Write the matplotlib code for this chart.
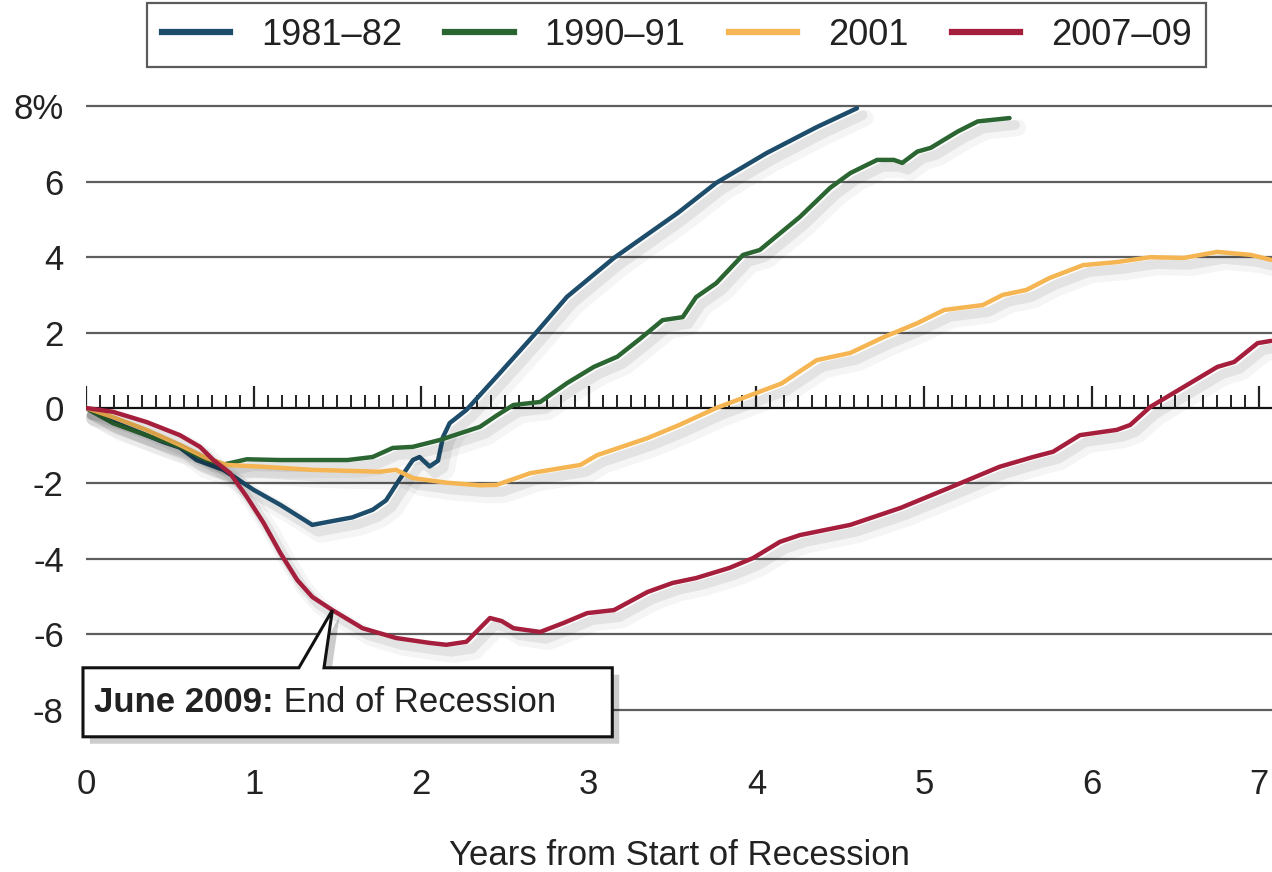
import numpy as np
import matplotlib
matplotlib.use("Agg")
import matplotlib.pyplot as plt
from matplotlib import patheffects as pe
from matplotlib.lines import Line2D
from matplotlib.patches import Polygon

plt.rcParams['font.family'] = ['Liberation Sans', 'DejaVu Sans']

# ---------------- data ----------------
labels = ["1981\u201382", "1990\u201391", "2001", "2007\u201309"]
colors = ["#1d4d6b", "#2b6632", "#f4b552", "#a51f3d"]

x_1981 = [0, 0.16, 0.36, 0.46, 0.56, 0.66, 0.82, 1.0, 1.16, 1.35, 1.47, 1.59, 1.71, 1.79,
          1.87, 1.95, 1.99, 2.05, 2.1, 2.13, 2.17, 2.27, 2.47, 2.67, 2.87, 3.15, 3.53, 3.76,
          4.06, 4.36, 4.6]
y_1981 = [0, -0.36, -0.72, -0.9, -1.05, -1.38, -1.64, -2.17, -2.57, -3.1, -3.0, -2.9, -2.7,
          -2.45, -1.9, -1.38, -1.3, -1.55, -1.4, -0.77, -0.4, -0.05, 0.93, 1.92, 2.95, 3.98,
          5.17, 5.97, 6.76, 7.45, 7.95]

x_1990 = [0, 0.16, 0.36, 0.56, 0.72, 0.82, 0.96, 1.16, 1.56, 1.71, 1.83, 1.95, 2.11, 2.35,
          2.45, 2.55, 2.71, 2.87, 3.03, 3.17, 3.31, 3.44, 3.56, 3.64, 3.76, 3.92, 4.02, 4.26,
          4.44, 4.56, 4.72, 4.82, 4.87, 4.96, 5.04, 5.2, 5.32, 5.51]
y_1990 = [0, -0.4, -0.72, -1.03, -1.38, -1.5, -1.36, -1.38, -1.38, -1.3, -1.06, -1.03, -0.85,
          -0.5, -0.2, 0.08, 0.16, 0.66, 1.09, 1.36, 1.85, 2.33, 2.41, 2.94, 3.31, 4.06, 4.19,
          5.07, 5.84, 6.23, 6.58, 6.58, 6.5, 6.8, 6.9, 7.33, 7.6, 7.69]

x_2001 = [0, 0.16, 0.36, 0.56, 0.72, 0.84, 1.06, 1.35, 1.75, 1.85, 1.95, 2.15, 2.35, 2.45,
          2.65, 2.95, 3.05, 3.35, 3.54, 3.76, 3.94, 4.15, 4.36, 4.56, 4.76, 4.96, 5.12, 5.35,
          5.47, 5.61, 5.75, 5.95, 6.15, 6.35, 6.55, 6.75, 6.95, 7.07]
y_2001 = [0, -0.24, -0.58, -0.98, -1.33, -1.51, -1.56, -1.64, -1.69, -1.64, -1.86, -1.98,
          -2.05, -2.04, -1.73, -1.51, -1.25, -0.8, -0.45, 0, 0.3, 0.65, 1.27, 1.46, 1.88,
          2.25, 2.6, 2.73, 3.0, 3.13, 3.45, 3.79, 3.87, 4.0, 3.98, 4.14, 4.06, 3.93]

x_2007 = [0, 0.16, 0.36, 0.56, 0.68, 0.76, 0.86, 0.96, 1.06, 1.16, 1.26, 1.35, 1.47, 1.65,
          1.85, 2.05, 2.15, 2.27, 2.35, 2.41, 2.48, 2.55, 2.71, 2.85, 2.99, 3.15, 3.35, 3.5,
          3.64, 3.84, 3.98, 4.14, 4.26, 4.56, 4.86, 5.16, 5.45, 5.65, 5.77, 5.93, 6.15, 6.23,
          6.35, 6.55, 6.75, 6.85, 6.99, 7.07]
y_2007 = [0, -0.1, -0.37, -0.72, -1.03, -1.38, -1.73, -2.36, -3.05, -3.85, -4.56, -5.01,
          -5.36, -5.84, -6.1, -6.23, -6.28, -6.2, -5.84, -5.57, -5.65, -5.84, -5.94, -5.7,
          -5.44, -5.36, -4.88, -4.64, -4.51, -4.24, -3.98, -3.55, -3.37, -3.1, -2.65, -2.1,
          -1.56, -1.3, -1.16, -0.72, -0.58, -0.45, 0.03, 0.56, 1.09, 1.22, 1.72, 1.78]

series_x = [x_1981, x_1990, x_2001, x_2007]
series_y = [y_1981, y_1990, y_2001, y_2007]

y_ticks = [8, 6, 4, 2, 0, -2, -4, -6, -8]
y_tick_labels = ["8%", "6", "4", "2", "0", "-2", "-4", "-6", "-8"]
x_ticks = [0, 1, 2, 3, 4, 5, 6, 7]

end_of_recession = 1.47  # June 2009, years from Dec 2007
annot_bold = "June 2009:"
annot_text = " End of Recession"

# ---------------- figure ----------------
fig = plt.figure(figsize=(12.72, 8.72), dpi=100)
ax = fig.add_axes([86 / 1272, 0.1516, 1186 / 1272, 0.7394])
ax.set_xlim(0, 7.076)
ax.set_ylim(-8.8, 8.3)

for s in ax.spines.values():
    s.set_visible(False)

# gridlines
for yv in y_ticks:
    if yv == 0:
        ax.axhline(0, color="#111111", lw=1.6, zorder=1)
    else:
        ax.axhline(yv, color="#5e5e5e", lw=1.6, zorder=1)

# month ticks on zero line
months = np.arange(0, 85) / 12.0
minor = [m for i, m in enumerate(months) if i % 12 != 0]
major = [m for i, m in enumerate(months) if i % 12 == 0]
ax.vlines(minor, 0, 0.34, color="#222222", lw=1.4, zorder=1)
ax.vlines(major, 0, 0.58, color="#222222", lw=1.6, zorder=1)

shadow = [pe.SimpleLineShadow(offset=(6, -7), shadow_color="#000000", alpha=0.04, linewidth=12),
          pe.SimpleLineShadow(offset=(4, -5), shadow_color="#000000", alpha=0.07, linewidth=7),
          pe.Normal()]

handles = []
for xs, ys, c, lab in zip(series_x, series_y, colors, labels):
    ln, = ax.plot(xs, ys, color=c, lw=3.2, solid_joinstyle="round",
                  solid_capstyle="round", label=lab, zorder=3)
    ln.set_path_effects(shadow)
    handles.append(Line2D([0], [0], color=c, lw=4.5))

ax.set_yticks(y_ticks)
ax.set_yticklabels(y_tick_labels)
ax.set_xticks(x_ticks)
ax.set_xticklabels([str(v) for v in x_ticks])
ax.tick_params(axis="y", length=0, pad=16, labelsize=25, labelcolor="#222222")
ax.tick_params(axis="x", length=0, pad=20, labelsize=25, labelcolor="#222222")
ax.set_xlabel("Years from Start of Recession", fontsize=25, color="#222222", labelpad=28)

# callout box
tip_y = float(np.interp(end_of_recession, x_2007, y_2007))
bl, br, bt, bb = -0.018, 3.14, -6.89, -8.72
poly = Polygon([(bl, bb), (bl, bt), (1.27, bt), (end_of_recession, tip_y),
                (1.42, bt), (br, bt), (br, bb)], closed=True,
               facecolor="white", edgecolor="#111111", lw=2.2, zorder=6, clip_on=False,
               joinstyle="miter")
poly.set_path_effects([pe.SimplePatchShadow(offset=(5, -5), shadow_rgbFace="#000000", alpha=0.2),
                       pe.Normal()])
ax.add_patch(poly)
t1 = ax.text(0.05, -7.82, annot_bold, fontsize=25, fontweight="bold", color="#222222",
             va="center", ha="left", zorder=7)
ax.annotate(annot_text, xy=(1, 0.5), xycoords=t1, va="center", ha="left",
            fontsize=25, color="#222222", zorder=7)

# legend
leg = fig.legend(handles, labels, loc="upper center", bbox_to_anchor=(0.532, 0.996),
                 ncol=4, fontsize=26, handlelength=1.9, handletextpad=0.85,
                 columnspacing=1.2, borderpad=0.4, borderaxespad=0.0,
                 fancybox=False, frameon=True)
fr = leg.get_frame()
fr.set_edgecolor("#333333")
fr.set_linewidth(1.6)
for t in leg.get_texts():
    t.set_color("#222222")

fig.savefig("out.png", dpi=100)
